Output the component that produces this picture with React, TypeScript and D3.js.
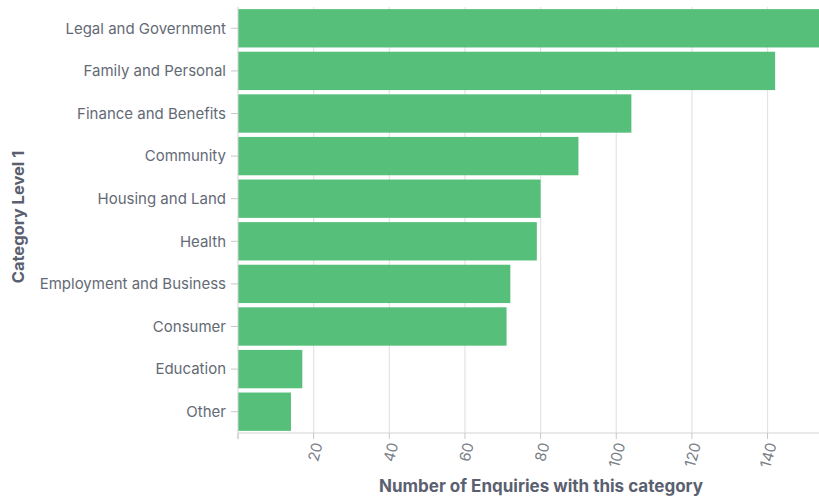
import React from "react";
import * as d3 from "d3";

const categories = [
  "Legal and Government",
  "Family and Personal",
  "Finance and Benefits",
  "Community",
  "Housing and Land",
  "Health",
  "Employment and Business",
  "Consumer",
  "Education",
  "Other",
];
const values = [154, 142, 104, 90, 80, 79, 72, 71, 17, 14];
const xTicks = [20, 40, 60, 80, 100, 120, 140];

const W = 819;
const H = 498;

export default function App() {
  const x = d3.scaleLinear().domain([0, 153.6]).range([238, 819]);
  const y = d3.scaleBand<string>().domain(categories).range([7, 433]).paddingInner(0.1).paddingOuter(0.05);
  const font = "Inter, 'Noto Sans', sans-serif";
  const axisY = 433;
  return (
    <svg width={W} height={H} style={{ position: "absolute", left: 0, top: 0 }} fontFamily={font}>
      <rect width={W} height={H} fill="#fff" />
      {xTicks.map((t) => (
        <line key={"g" + t} x1={x(t)} x2={x(t)} y1={7} y2={axisY} stroke="#e4e4e4" strokeWidth={1.2} />
      ))}
      {categories.map((c, i) => (
        <rect key={c} x={x(0)} y={y(c)!} width={Math.max(0, x(Math.min(values[i], 153.6)) - x(0))} height={y.bandwidth()} fill="#56BF7A" />
      ))}
      <line x1={x(0)} x2={x(0)} y1={7} y2={axisY + 6} stroke="#d3d3d3" />
      {categories.map((c) => {
        const cy = y(c)! + y.bandwidth() / 2;
        return (
          <g key={"yl" + c}>
            <line x1={x(0) - 7} x2={x(0)} y1={cy} y2={cy} stroke="#c8c8c8" />
            <text x={x(0) - 12} y={cy} dy="0.35em" textAnchor="end" fontSize={15} fill="#646a75">
              {c}
            </text>
          </g>
        );
      })}
      <line x1={x(0)} x2={W} y1={axisY} y2={axisY} stroke="#d3d3d3" strokeWidth={1.2} />
      {[0, ...xTicks].map((t) => (
        <line key={"t" + t} x1={x(t)} x2={x(t)} y1={axisY} y2={axisY + 6} stroke="#c8c8c8" />
      ))}
      {xTicks.map((t) => (
        <text
          key={"xl" + t}
          transform={`translate(${x(t) + 4},${axisY + 10}) rotate(-75)`}
          textAnchor="end"
          dy="0.35em"
          fontSize={15}
          fill="#7a7f88"
        >
          {t}
        </text>
      ))}
      <text x={541} y={486} dy="0.35em" textAnchor="middle" fontSize={17} fontWeight="bold" fill="#5a6070">
        Number of Enquiries with this category
      </text>
      <text transform={`translate(18,217) rotate(-90)`} dy="0.35em" textAnchor="middle" fontSize={16.5} fontWeight="bold" fill="#5a6070">
        Category Level 1
      </text>
    </svg>
  );
}
